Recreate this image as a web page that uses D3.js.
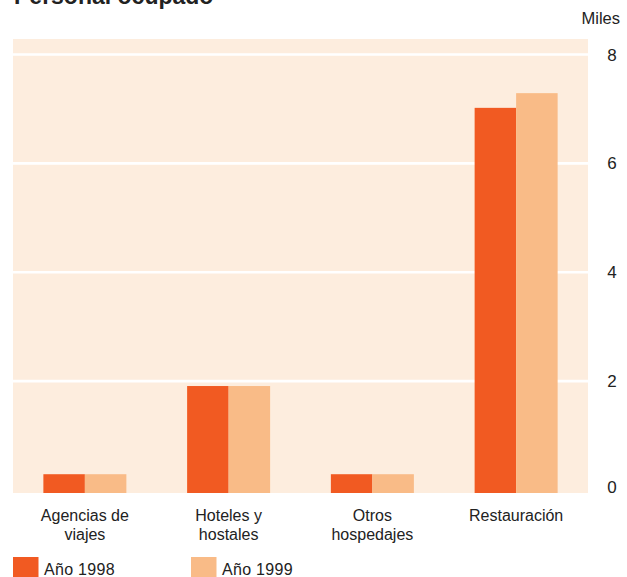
<!DOCTYPE html>
<html><head><meta charset="utf-8">
<script src="https://cdn.jsdelivr.net/npm/d3@7"></script>
<style>
html,body{margin:0;padding:0;background:#fff;}
svg{display:block;font-family:"Liberation Sans",Arial,sans-serif;}
</style></head>
<body><div id="chart"></div>
<script>
const title = "Personal ocupado";
const unitLabel = "Miles";
const categories = [["Agencias de","viajes"],["Hoteles y","hostales"],["Otros","hospedajes"],["Restauración"]];
const categoryKeys = ["Agencias de viajes","Hoteles y hostales","Otros hospedajes","Restauración"];
const seriesNames = ["Año 1998","Año 1999"];
const values1998 = [0.29, 1.91, 0.29, 7.02];
const values1999 = [0.29, 1.91, 0.29, 7.29];
const yTicks = [0, 2, 4, 6, 8];
const colors = ["#F15A22", "#F9BB87"];

const W = 627, H = 577;
const plot = {left: 13, right: 588, top: 39, bottom: 493};
const svg = d3.select("#chart").append("svg").attr("width", W).attr("height", H);

const y = d3.scaleLinear().domain([0, 8]).range([490, 54.5]);
const x0 = d3.scaleBand().domain(categoryKeys).range([plot.left, plot.right])
  .paddingInner(0.4226).paddingOuter(0.2113);
const x1 = d3.scaleBand().domain(seriesNames).range([0, x0.bandwidth()]);

// background
svg.append("rect").attr("x", plot.left).attr("y", plot.top)
  .attr("width", plot.right - plot.left).attr("height", plot.bottom - plot.top)
  .attr("fill", "#FDEDDE");

// gridlines
svg.append("g").selectAll("line").data(yTicks.filter(d => d > 0)).join("line")
  .attr("x1", plot.left).attr("x2", plot.right)
  .attr("y1", d => y(d)).attr("y2", d => y(d))
  .attr("stroke", "#fff").attr("stroke-width", 2.6);

// bars
const series = [values1998, values1999];
const g = svg.append("g");
seriesNames.forEach((s, si) => {
  g.append("g").selectAll("rect").data(categoryKeys).join("rect")
    .attr("x", (c) => x0(c) + x1(s))
    .attr("width", x1.bandwidth())
    .attr("y", (c, i) => y(series[si][i]))
    .attr("height", (c, i) => plot.bottom - y(series[si][i]))
    .attr("fill", colors[si]);
});

// y axis labels (right)
const yAxis = d3.axisRight(y).tickValues(yTicks).tickSize(0).tickPadding(0).tickFormat(d3.format("d"));
const ya = svg.append("g").attr("transform", "translate(612,0)").call(yAxis);
ya.select(".domain").remove();
ya.selectAll("text").attr("text-anchor", "middle").attr("x", 0)
  .attr("font-size", 17).attr("fill", "#222").attr("font-family", "Liberation Sans, Arial, sans-serif");
ya.selectAll(".tick").filter(d => d === 0).select("text").attr("y", -3);
ya.selectAll(".tick").filter(d => d === 8).select("text").attr("y", 1);

svg.append("text").attr("x", 620).attr("y", 24).attr("text-anchor", "end")
  .attr("font-size", 16.5).attr("fill", "#222").text(unitLabel);

// title (cut at top, as in the reference)
svg.append("text").attr("x", 14).attr("y", 4).attr("font-size", 23)
  .attr("font-weight", "bold").attr("fill", "#222").text(title);

// category labels
const cl = svg.append("g");
categoryKeys.forEach((c, i) => {
  const t = cl.append("text").attr("x", x0(c) + x0.bandwidth() / 2).attr("y", 521)
    .attr("text-anchor", "middle").attr("font-size", 16).attr("fill", "#222");
  categories[i].forEach((line, li) => {
    t.append("tspan").attr("x", x0(c) + x0.bandwidth() / 2).attr("dy", li === 0 ? 0 : 19).text(line);
  });
});

// legend
const legendX = [13, 191];
seriesNames.forEach((s, i) => {
  const lg = svg.append("g").attr("transform", `translate(${legendX[i]},557)`);
  lg.append("rect").attr("width", 25.5).attr("height", 20).attr("fill", colors[i]);
  lg.append("text").attr("x", 31).attr("y", 18).attr("font-size", 16)
    .attr("letter-spacing", 0.3).attr("fill", "#222").text(s);
});
</script></body></html>
